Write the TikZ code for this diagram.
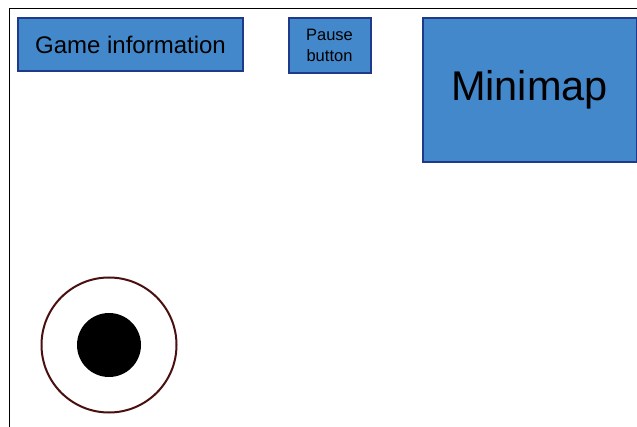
\documentclass[tikz,border=0pt]{standalone}
\usepackage{fontspec}
\setmainfont{Liberation Sans}
\definecolor{boxfill}{HTML}{4488CC}
\definecolor{boxline}{HTML}{1F3A8A}
\definecolor{ringline}{HTML}{4A1010}
\begin{document}
\begin{tikzpicture}[x=1pt,y=-1pt,
  uibox/.style={draw=boxline,fill=boxfill,line width=2pt,rectangle,inner sep=0pt,align=center,text=black},
  ring/.style={draw=ringline,line width=2pt,circle,inner sep=0pt},
  knob/.style={fill=black,circle,inner sep=0pt}]
\useasboundingbox (0,0) rectangle (637,427);
\fill[white] (0,0) rectangle (637,427);
\coordinate (fb) at (9.5,427);
\coordinate (ft) at (9.5,8.5);
\coordinate (fr) at (637,8.5);
\draw[line width=1.5pt,black] (fb) -- (ft) -- (fr);
\node[uibox,minimum width=225pt,minimum height=53pt,font=\fontsize{24}{28}\selectfont] (game) at (130.5,44.5) {Game information};
\node[uibox,minimum width=82pt,minimum height=55pt,font=\fontsize{16.5}{21}\selectfont] (pause) at (329.5,45.5) {Pause\\button};
\node[uibox,minimum width=214pt,minimum height=144pt,font=\fontsize{41.5}{48}\selectfont] (map) at (529.5,90) {Minimap};
\node[ring,minimum size=135pt] (joy) at (109,345) {};
\node[knob,minimum size=64pt] (stick) at (joy.center) {};
\end{tikzpicture}
\end{document}
